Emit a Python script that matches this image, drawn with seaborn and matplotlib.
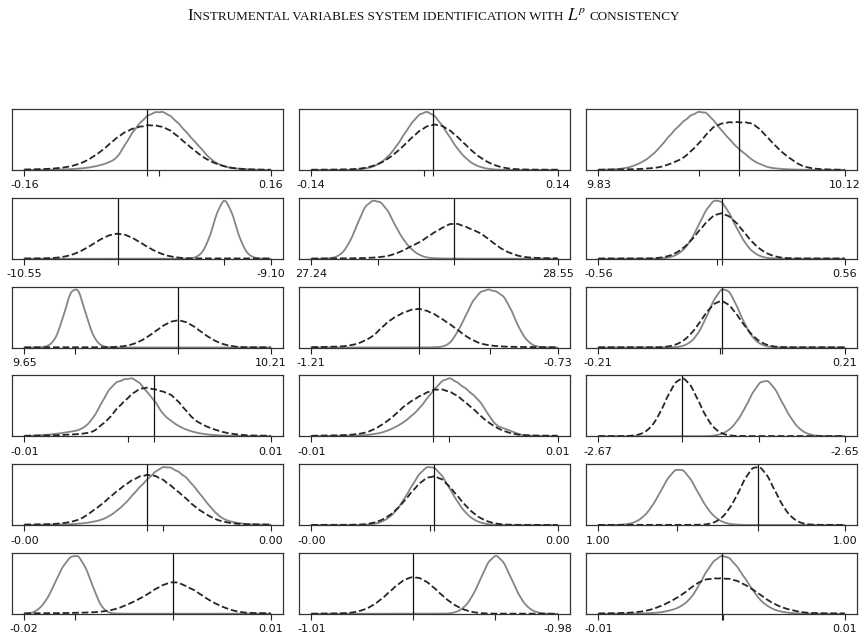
import numpy as np
import matplotlib
matplotlib.use("Agg")
import matplotlib.pyplot as plt
from matplotlib.transforms import IdentityTransform
import seaborn as sns

# panels row by row: axis ends, true value (vertical line), mean of the gray estimate
LO = [-0.16, -0.138, 9.834, -10.55, 27.24, -0.56, 9.65, -1.21, -0.21,
      -0.0095, -0.0098, -2.6705, -0.004, -0.004, 0.996, -0.0151, -1.0122, -0.008]
HI = [0.16, 0.142, 10.124, -9.10, 28.55, 0.56, 10.21, -0.73, 0.21,
      0.0086, 0.0100, -2.6462, 0.004, 0.004, 1.004, 0.0099, -0.9826, 0.008]
TRUE_VALUE = [0.0, 0.0, 10.0, -10.0, 28.0, 0.0, 10.0, -1.0, 0.0,
              0.0, 0.0, -2.6622, 0.0, 0.0, 1.0012, 0.0, -1.0, 0.0]
GRAY_MEAN = [0.0154, -0.010, 9.953, -9.374, 27.595, -0.02, 9.765, -0.861, -0.003,
             -0.0019, 0.0013, -2.6547, 0.0005, -0.00015, 0.99855, -0.0100, -0.9901, 0.0001]

# density heights read at 33 evenly spaced points between LO and HI
GRAY = [
    [0, 0, 0.1, 0.2, 0.3, 0.4, 0.7, 1.2, 1.8, 3, 4.5, 7, 10.5, 22, 34, 43, 50, 53, 53.5, 49.5, 43, 35,
     27, 19.5, 11, 6, 3, 1.8, 1, 0.6, 0.3, 0.1, 0],
    [0, 0, 0, 0, 0, 0.1, 0.4, 1.2, 2.9, 6.4, 12.4, 21, 32, 43, 51, 54, 50, 41, 30, 19, 11, 5.5,
     2.5, 1, 0.3, 0.1, 0, 0, 0, 0, 0, 0, 0],
    [0.2, 0.3, 0.5, 1.2, 2.4, 5, 8.5, 14, 21, 30, 38, 45, 51, 54.5, 54, 46, 37, 29, 21, 15.5, 9, 5.5,
     2.5, 1.5, 0.8, 0.5, 0.3, 0.2, 0.2, 0.1, 0.1, 0.1, 0.1],
    [0, 0, 0, 0, 0, 0, 0, 0, 0, 0, 0, 0, 0, 0, 0, 0, 0, 0, 0, 0, 0, 0,
     0.5, 3.7, 16.5, 40, 54, 40, 16.5, 3.7, 0.5, 0, 0],
    [0, 0, 0.2, 1, 4.5, 15, 32, 49, 54, 52.5, 44, 29, 17, 8.5, 3.5, 1, 0.5, 0.3, 0.2, 0.2, 0.2, 0.1,
     0.1, 0.1, 0.1, 0.1, 0.1, 0.1, 0.1, 0.1, 0.1, 0.1, 0.1],
    [0, 0, 0, 0, 0, 0, 0, 0, 0.2, 0.8, 2.7, 7.3, 16, 30, 44, 53, 52, 41.5, 27, 14.5, 6.3, 2.2,
     0.6, 0.2, 0.1, 0.1, 0.1, 0.1, 0.1, 0.1, 0.1, 0.1, 0.1],
    [0, 0, 0.1, 0.8, 6, 24, 48, 51, 28, 8, 1.2, 0.2, 0.1, 0.1, 0.1, 0.1, 0.1, 0.1, 0.1, 0.1, 0.1, 0.1,
     0.1, 0.1, 0.1, 0.1, 0.1, 0.1, 0.1, 0.1, 0.1, 0.1, 0.1],
    [0.1, 0.1, 0.1, 0.1, 0.1, 0.1, 0.1, 0.1, 0.1, 0.1, 0.1, 0.1, 0.1, 0.1, 0.1, 0.1, 0.3, 0.6, 3.5, 14, 28, 43,
     51, 53, 51, 47, 34, 17, 6, 1.2, 0.3, 0.1, 0.1],
    [0.1, 0.1, 0.1, 0.1, 0.1, 0.1, 0.1, 0.1, 0.1, 0.1, 0.3, 1.3, 4.6, 12.6, 26.5, 42.8, 53, 51, 37, 21, 9, 3,
     0.8, 0.2, 0.1, 0.1, 0.1, 0.1, 0.1, 0.1, 0.1, 0.1, 0.1],
    [0.3, 0.6, 1, 1.5, 2.2, 3.2, 4.2, 5.5, 9, 17, 30, 43, 50, 52, 53.7, 49, 40, 32, 20, 14.5, 9.5, 6.2,
     4, 2.5, 1.6, 1, 0.7, 0.5, 0.4, 0.3, 0.2, 0.2, 0.2],
    [0.3, 0.3, 0.4, 0.5, 0.5, 0.6, 0.8, 1, 2, 3.2, 5.5, 9, 13, 19, 25.5, 35, 44, 52, 55, 50, 45, 39,
     32, 20, 10, 7.5, 5, 1.7, 0.8, 0.5, 0.3, 0.2, 0.2],
    [0.1, 0.1, 0.1, 0.1, 0.1, 0.1, 0.1, 0.1, 0.1, 0.1, 0.1, 0.1, 0.1, 0.1, 0.1, 0.6, 1.9, 5.5, 12.7, 24, 38, 48,
     49.5, 41.5, 28, 16, 7, 2.6, 0.8, 0.3, 0.2, 0.2, 0.2],
    [0.2, 0.2, 0.3, 0.3, 0.4, 0.6, 0.9, 1.3, 2, 3.2, 4.8, 8, 13, 19, 27, 35, 42, 49, 53.5, 53, 49, 44,
     36, 27, 18, 10, 5, 3, 1.7, 1, 0.7, 0.5, 0.4],
    [0.1, 0.1, 0.1, 0.1, 0.1, 0.1, 0.1, 0.3, 0.9, 2.6, 6.2, 12.7, 22.7, 35, 46.5, 53.3, 52.6, 45, 33, 21, 11.3, 5.3,
     2.2, 0.8, 0.3, 0.1, 0.1, 0.1, 0.1, 0.1, 0.1, 0.1, 0.1],
    [0.1, 0.1, 0.1, 0.3, 1.1, 3.2, 8, 16.5, 28.5, 41, 49, 48.8, 40.5, 28, 16, 7.7, 3.1, 1, 0.5, 0.2, 0.2, 0.2,
     0.2, 0.2, 0.2, 0.2, 0.2, 0.2, 0.2, 0.2, 0.2, 0.2, 0.2],
    [0.1, 0.7, 4.8, 13.5, 28.5, 43, 52, 53.5, 42, 23, 6, 0.8, 0.4, 0.3, 0.3, 0.3, 0.3, 0.3, 0.3, 0.3, 0.3, 0.3,
     0.3, 0.3, 0.3, 0.3, 0.3, 0.3, 0.3, 0.3, 0.3, 0.3, 0.3],
    [0.2, 0.2, 0.2, 0.2, 0.2, 0.2, 0.2, 0.2, 0.2, 0.2, 0.2, 0.2, 0.2, 0.2, 0.2, 0.2, 0.2, 0.2, 0.5, 2, 6.7, 16.6,
     32, 47.5, 54, 47, 31.6, 16.2, 6.5, 2, 0.5, 0.1, 0.1],
    [0.2, 0.2, 0.2, 0.3, 0.3, 0.4, 0.6, 0.9, 1.4, 2.7, 4.5, 8, 14, 25, 38.5, 48.5, 53.5, 51.5, 43.5, 33, 22.4, 12.5,
     7, 3.4, 1.8, 0.9, 0.5, 0.3, 0.2, 0.2, 0.2, 0.2, 0.2],
]
DASHED = [
    [0.5, 0.6, 0.8, 1, 1.5, 2.2, 3.5, 5.5, 8.5, 13, 18, 24.5, 31, 36, 39.5, 41.5, 43, 43, 41.5, 38, 32, 25.5,
     19.5, 13.5, 9, 5.8, 3.5, 1.8, 1.2, 0.6, 0.4, 0.3, 0.3],
    [0.3, 0.3, 0.3, 0.4, 0.5, 0.6, 1, 1.9, 3.7, 6.5, 10.7, 16.3, 23, 30, 36.6, 41.2, 43, 41.6, 37.3, 31, 24, 17,
     11.4, 7, 4, 2.1, 1, 0.6, 0.4, 0.3, 0.3, 0.3, 0.3],
    [0.3, 0.3, 0.4, 0.5, 0.7, 0.9, 1.4, 2, 3, 5.5, 9, 12.5, 20, 28, 38, 47, 50, 51.5, 51.5, 51.5, 50.5, 44,
     35, 26, 18, 12, 6, 3, 1.5, 0.8, 0.5, 0.3, 0.3],
    [0.3, 0.3, 0.3, 0.4, 0.7, 1.4, 2.8, 5, 8.2, 12, 15.7, 18.6, 20, 19.3, 16.8, 13.2, 9.4, 6, 3.5, 1.8, 0.9, 0.4,
     0.3, 0.3, 0.3, 0.3, 0.3, 0.3, 0.3, 0.3, 0.3, 0.3, 0.3],
    [0.3, 0.3, 0.3, 0.4, 0.4, 0.5, 0.6, 0.8, 1.2, 1.8, 3, 5.5, 9, 13.5, 17, 22.5, 28, 32.5, 37, 37, 34, 30.5,
     27, 21, 14.5, 9, 5.5, 2.8, 1.5, 1, 0.7, 0.5, 0.5],
    [0.3, 0.3, 0.3, 0.3, 0.3, 0.3, 0.3, 0.4, 0.9, 2.2, 4.8, 9.5, 16, 25, 33, 40, 42, 39, 32.5, 23.7, 15, 8.7,
     4.4, 2, 0.8, 0.4, 0.3, 0.3, 0.3, 0.3, 0.3, 0.3, 0.3],
    [0.3, 0.3, 0.3, 0.3, 0.3, 0.3, 0.3, 0.3, 0.3, 0.3, 0.3, 0.4, 0.6, 1.4, 3, 6, 10.3, 15.8, 21.3, 25.5, 27, 25.3,
     20.9, 15.3, 9.9, 5.7, 2.9, 1.3, 0.5, 0.3, 0.3, 0.3, 0.3],
    [0.4, 0.5, 0.6, 0.8, 1, 2, 3.3, 6.5, 10, 17, 23.5, 28, 31.5, 34, 35, 33, 30, 25.5, 21, 16, 10.5, 6.5,
     3.5, 2.2, 1.3, 0.9, 0.7, 0.6, 0.5, 0.4, 0.4, 0.3, 0.3],
    [0.3, 0.3, 0.3, 0.3, 0.3, 0.3, 0.3, 0.3, 0.3, 0.8, 2.4, 5.8, 12, 21, 31.6, 40, 43, 39, 30, 19.8, 11, 5.2,
     2.1, 0.7, 0.4, 0.3, 0.3, 0.3, 0.3, 0.3, 0.3, 0.3, 0.3],
    [0.7, 0.7, 0.8, 0.9, 1.1, 1.4, 1.8, 2.2, 3, 4.5, 11, 17, 27, 34, 41.5, 46.5, 47.5, 45.5, 43.5, 41, 34, 25,
     16.5, 12, 8.5, 6, 3.8, 2.5, 1.6, 1, 0.8, 0.7, 0.7],
    [0.7, 0.7, 0.8, 0.9, 1.1, 1.4, 2.2, 3.3, 6, 10, 15, 21, 28, 33, 37.5, 41, 44, 44, 42, 38, 32, 26,
     19, 13, 8.3, 5, 2.8, 1.4, 1, 0.8, 0.7, 0.7, 0.7],
    [0.3, 0.3, 0.3, 0.3, 0.4, 1, 3.3, 9, 20, 35, 47.6, 52, 45, 31, 16.7, 7.2, 2.5, 0.7, 0.4, 0.3, 0.3, 0.3,
     0.3, 0.3, 0.3, 0.3, 0.3, 0.3, 0.3, 0.3, 0.3, 0.3, 0.3],
    [0.7, 0.7, 0.8, 0.9, 1.2, 1.8, 3, 4.8, 8.5, 14, 19, 25.5, 31.5, 37, 42, 45.5, 47, 46, 42.5, 37, 31, 25,
     18, 13, 8.5, 5, 3, 1.8, 1.1, 0.8, 0.7, 0.7, 0.7],
    [0.3, 0.3, 0.3, 0.3, 0.3, 0.4, 0.5, 0.8, 2, 4.2, 8, 13.7, 21.4, 30, 38, 43.5, 45, 42, 35, 26.5, 18, 11.2,
     6.2, 3.1, 1.4, 0.6, 0.4, 0.3, 0.3, 0.3, 0.3, 0.3, 0.3],
    [0.3, 0.3, 0.3, 0.3, 0.3, 0.3, 0.3, 0.3, 0.3, 0.3, 0.3, 0.3, 0.3, 0.4, 0.6, 2.1, 6, 14, 26, 40.6, 51, 52,
     43.5, 29.5, 16.3, 7.4, 2.7, 0.8, 0.4, 0.3, 0.3, 0.3, 0.3],
    [0.7, 0.7, 0.7, 0.7, 0.7, 0.8, 0.9, 1, 1.2, 1.5, 2, 3, 4.5, 7, 10, 13.3, 17, 21.5, 25, 27.5, 27.5, 24,
     21, 16.5, 12, 8.5, 5.5, 3.2, 1.7, 1, 0.8, 0.7, 0.7],
    [0.3, 0.3, 0.4, 0.5, 0.6, 0.9, 2, 3.9, 7.1, 11.8, 17.5, 23.4, 28.3, 30.8, 30.3, 26.9, 21.5, 15.5, 10.1, 6, 3.2, 1.5,
     0.7, 0.4, 0.3, 0.3, 0.3, 0.3, 0.3, 0.3, 0.3, 0.3, 0.3],
    [0.7, 0.7, 0.8, 1, 1.3, 2, 3, 5, 8, 11.5, 16, 21, 27.5, 33, 36.5, 37.5, 37.5, 37, 35, 31, 26, 20.5,
     14.5, 10, 6.5, 4.3, 2.5, 1.3, 1, 0.8, 0.7, 0.7, 0.7],
]

TITLE_PARTS = [("I", 1.0), ("NSTRUMENTAL VARIABLES SYSTEM IDENTIFICATION WITH", 0.78),
               ("$L^p$", 1.0), ("CONSISTENCY", 0.78)]

sns.set_style("ticks")
plt.rcParams["font.family"] = ["DejaVu Sans"]
plt.rcParams["mathtext.fontset"] = "stix"

fig, axes = plt.subplots(6, 3, figsize=(8.67, 6.4), dpi=100,
                         gridspec_kw=dict(left=0.0138, right=0.9885, top=0.8297, bottom=0.0406,
                                          hspace=0.456, wspace=0.059))

for i, ax in enumerate(axes.flat):
    lo, hi = LO[i], HI[i]
    x = np.linspace(lo, hi, len(GRAY[i]))
    step = x[1] - x[0]
    for h, color, ls in ((GRAY[i], "#858585", "-"), (DASHED[i], "#262626", "--")):
        w = np.asarray(h, dtype=float) + 1e-3
        sd = np.sqrt(np.cov(x, aweights=w))
        sns.kdeplot(x=x, weights=w, bw_method=0.55 * step / sd, cut=0, ax=ax,
                    color=color, lw=1.3, ls=ls)
    ax.axvline(TRUE_VALUE[i], color="#111111", lw=0.9)
    ax.set_xticks([lo, GRAY_MEAN[i], TRUE_VALUE[i], hi])
    ax.set_xticklabels([f"{lo:.2f}", "", "", f"{hi:.2f}"])
    ax.set_yticks([])
    ax.set_xlabel("")
    ax.set_ylabel("")
    ax.tick_params(axis="x", labelsize=8, length=4.5, width=0.8, color="#222222",
                   labelcolor="#111111", pad=3)
    for sp in ax.spines.values():
        sp.set_color("#333333")
        sp.set_linewidth(0.9)

# small-caps title, built from pieces
renderer = fig.canvas.get_renderer()


def place_title(size, x0):
    x = x0
    out = []
    for k, (s, rel) in enumerate(TITLE_PARTS):
        t = fig.text(x, 620, s, fontsize=size * rel, family="Liberation Serif", color="#111111",
                     va="baseline", ha="left", transform=IdentityTransform())
        out.append(t)
        x += t.get_window_extent(renderer).width
        if k > 0 and k < len(TITLE_PARTS) - 1:
            x += 0.25 * size * 0.78 * 100 / 72
        elif k == 0:
            x += 0.3
    return out, x - x0


parts, width = place_title(11.0, 0)
for t in parts:
    t.remove()
size = 11.0 * 493 / width
parts, width = place_title(size, 0)
for t in parts:
    t.remove()
place_title(size, (867 - width) / 2)

fig.savefig("out.png", dpi=100)
